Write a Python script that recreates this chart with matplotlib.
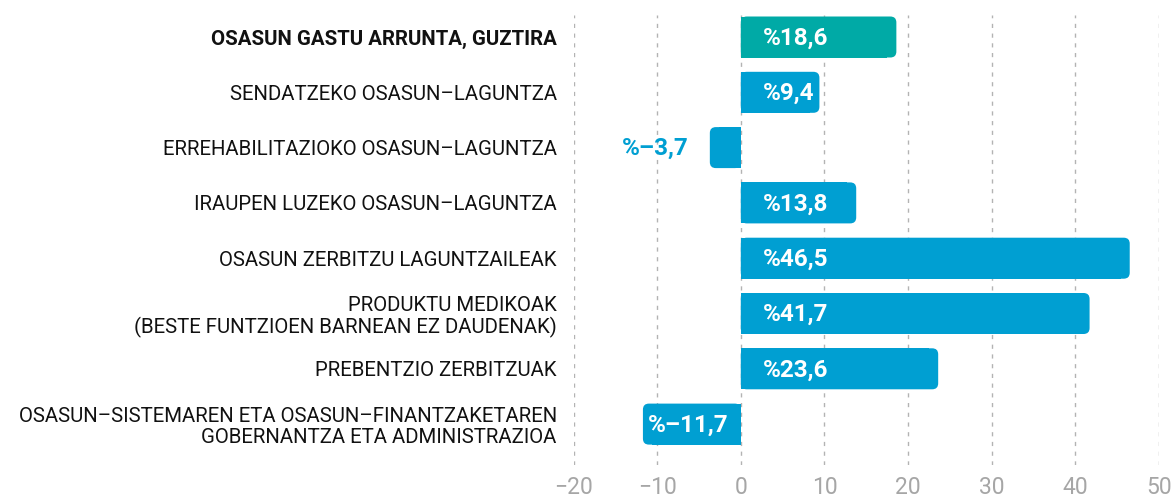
import matplotlib
matplotlib.use("Agg")
import matplotlib.pyplot as plt
from matplotlib.patches import FancyBboxPatch

categories = [
    "OSASUN GASTU ARRUNTA, GUZTIRA",
    "SENDATZEKO OSASUN-LAGUNTZA",
    "ERREHABILITAZIOKO OSASUN-LAGUNTZA",
    "IRAUPEN LUZEKO OSASUN-LAGUNTZA",
    "OSASUN ZERBITZU LAGUNTZAILEAK",
    "PRODUKTU MEDIKOAK\n(BESTE FUNTZIOEN BARNEAN EZ DAUDENAK)",
    "PREBENTZIO ZERBITZUAK",
    "OSASUN-SISTEMAREN ETA OSASUN-FINANTZAKETAREN\nGOBERNANTZA ETA ADMINISTRAZIOA",
]
values = [18.6, 9.4, -3.7, 13.8, 46.5, 41.7, 23.6, -11.7]
value_labels = ["%18,6", "%9,4", "%-3,7", "%13,8", "%46,5", "%41,7", "%23,6", "%-11,7"]
xticks = [-20, -10, 0, 10, 20, 30, 40, 50]
xtick_labels = ["\u221220", "\u221210", "0", "10", "20", "30", "40", "50"]

TEAL = "#00aaa6"
BLUE = "#009fd2"
FAM = ["Roboto", "DejaVu Sans"]
plt.rcParams["font.family"] = FAM

W, H = 1175, 499
fig = plt.figure(figsize=(W / 100, H / 100), dpi=100)
left_px, right_px, top_px, bot_px = 573.5, 1159, 15, 465
ax = fig.add_axes([left_px / W, 1 - bot_px / H, (right_px - left_px) / W, (bot_px - top_px) / H])

xmin, xmax = -20, 50
row_px = 55.3
ytop = -(37 - top_px) / row_px
ybot = ytop + (bot_px - top_px) / row_px
ax.set_xlim(xmin, xmax)
ax.set_ylim(ybot, ytop)

px_per_x = (right_px - left_px) / (xmax - xmin)
px_per_y = row_px
aspect = px_per_x / px_per_y
bar_h = 41 / row_px
r = 6 / px_per_x  # rounding in x units

for i, v in enumerate(values):
    col = TEAL if i == 0 else BLUE
    sign = 1 if v >= 0 else -1
    ax.barh(i, v - sign * r * 1.5, height=bar_h, left=0, color=col, zorder=3, linewidth=0)
    x0 = min(0, v)
    p = FancyBboxPatch((x0, i - bar_h / 2), abs(v), bar_h,
                       boxstyle=f"round,pad=0,rounding_size={r}",
                       mutation_aspect=aspect,
                       facecolor=col, edgecolor="none", zorder=3)
    ax.add_patch(p)

off = 22 / px_per_x
for i, (v, lab) in enumerate(zip(values, value_labels)):
    if v >= 0:
        ax.text(off, i + 0.02, lab, ha="left", va="center", color="white",
                fontsize=17.5, fontweight="bold", zorder=4)
    elif abs(v) > 6:
        ax.text(v + 5 / px_per_x, i + 0.02, lab.replace("-", "\u2013"), ha="left", va="center",
                color="white", fontsize=17.5, fontweight="bold", zorder=4)
    else:
        ax.text(v - 21 / px_per_x, i + 0.02, lab.replace("-", "\u2013"), ha="right", va="center",
                color=BLUE, fontsize=17.5, fontweight="bold", zorder=4)

ax.set_xticks(xticks)
ax.set_xticklabels(xtick_labels, color="#a6a6a6", fontsize=16.5)
ax.set_yticks(range(len(categories)))
ax.set_yticklabels([c.replace("-", "\u2013") for c in categories], fontsize=14.7, color="#111111",
                   linespacing=1.1)
ax.get_yticklabels()[0].set_fontweight("bold")
ax.tick_params(axis="x", length=0, pad=8)
ax.tick_params(axis="y", length=0, pad=12)
for s in ax.spines.values():
    s.set_visible(False)
ax.grid(axis="x", color="#b3b3b3", linestyle=(0, (3, 4)), linewidth=1, zorder=0)
ax.set_axisbelow(True)

fig.savefig("out.png", dpi=100)
